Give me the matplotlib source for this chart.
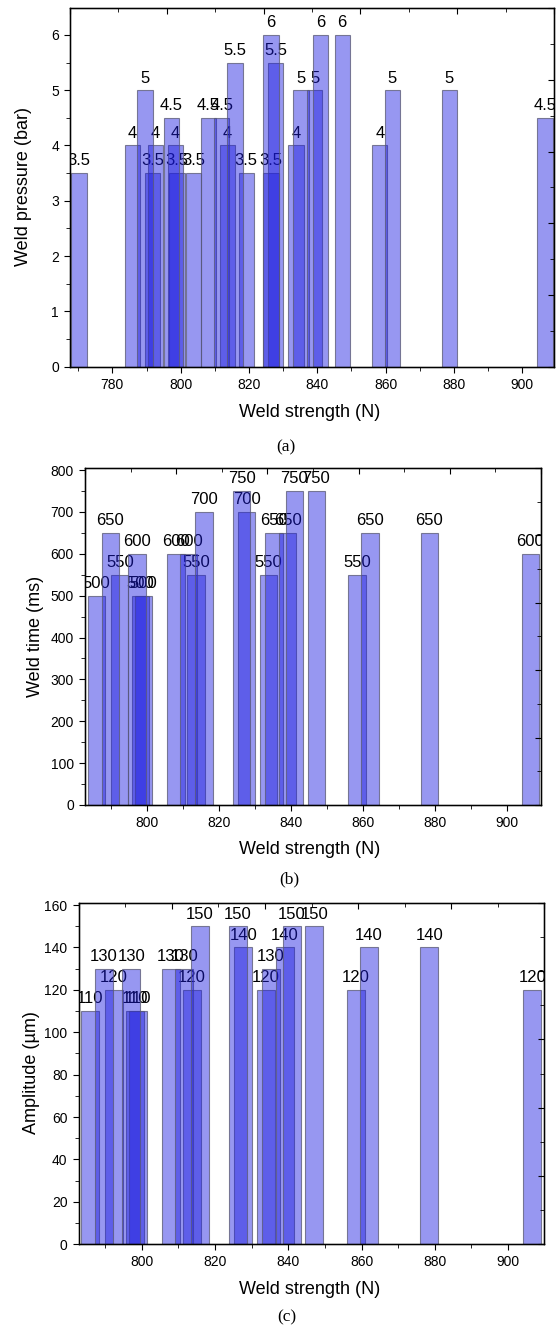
import matplotlib
matplotlib.use('Agg')
from matplotlib import pyplot as plt
from matplotlib.ticker import MultipleLocator

plt.rcParams['font.family'] = ['Liberation Sans', 'DejaVu Sans']

# (a) weld pressure vs weld strength
strength_a = [770.2, 785.9, 789.6, 791.8, 792.7, 797.3, 798.4, 798.9, 803.8, 808.1,
              812.0, 813.7, 815.9, 819.2, 826.5, 826.4, 827.8, 833.8, 835.2, 839.2,
              841.0, 847.3, 858.3, 862.0, 878.7, 906.7]
pressure = [3.5, 4, 5, 3.5, 4, 4.5, 4, 3.5, 3.5, 4.5,
            4.5, 4, 5.5, 3.5, 6, 3.5, 5.5, 4, 5, 5,
            6, 6, 4, 5, 5, 4.5]

# (b) weld time and (c) amplitude share the same strength positions
strength_bc = [785.8, 789.7, 792.4, 797.2, 798.2, 798.9, 808.0, 811.6, 813.6, 815.8,
               826.3, 827.7, 833.8, 835.3, 839.1, 841.0, 847.1, 858.4, 862.0, 878.5,
               906.6]
weld_time = [500, 650, 550, 600, 500, 500, 600, 600, 550, 700,
             750, 700, 550, 650, 650, 750, 750, 550, 650, 650,
             600]
amplitude = [110, 130, 120, 130, 110, 110, 130, 130, 120, 150,
             150, 140, 120, 130, 140, 150, 150, 120, 140, 140,
             120]

W, H = 556, 1328
face = (0.10, 0.10, 0.88, 0.45)
edge = (0.35, 0.35, 0.45, 0.75)

fig = plt.figure(figsize=(W / 100, H / 100), dpi=100)


def px_axes(l, r, t, b):
    return fig.add_axes([l / W, 1 - b / H, (r - l) / W, (b - t) / H])


def draw_panel(ax, xs, ys, width, xlim, ylim, ymajor, yminor):
    order = sorted(range(len(xs)), key=lambda i: ys[i])
    for k, i in enumerate(order):
        z = 1 + 0.02 * k
        ax.bar(xs[i], ys[i], width=width, color=face, edgecolor=edge,
               linewidth=0.8, zorder=z)
        ax.annotate('%g' % ys[i], (xs[i], ys[i]), xytext=(0, 5.5),
                    textcoords='offset points', ha='center', va='baseline',
                    fontsize=12, zorder=z + 0.01, annotation_clip=False,
                    clip_on=True)
    ax.set_xlim(*xlim)
    ax.set_ylim(*ylim)
    ax.xaxis.set_major_locator(MultipleLocator(20))
    ax.xaxis.set_minor_locator(MultipleLocator(10))
    ax.yaxis.set_major_locator(MultipleLocator(ymajor))
    ax.yaxis.set_minor_locator(MultipleLocator(yminor))
    ax.tick_params(which='both', direction='out', labelsize=10, top=False, right=False)
    ax.tick_params(which='major', length=4.5)
    ax.tick_params(which='minor', length=3)
    for s in ax.spines.values():
        s.set_linewidth(1.0)
    # Origin-style opposite axes with their own 0..1 ticks
    tx = ax.twiny()
    ty = ax.twinx()
    for t, axis in ((tx, tx.xaxis), (ty, ty.yaxis)):
        t.set_xlim(0, 1) if t is tx else t.set_ylim(0, 1)
        axis.set_major_locator(MultipleLocator(0.2))
        axis.set_minor_locator(MultipleLocator(0.1))
        t.tick_params(which='both', direction='in', labeltop=False, labelright=False,
                      labelbottom=False, labelleft=False)
        t.tick_params(which='major', length=4.5)
        t.tick_params(which='minor', length=3)


ax_a = px_axes(70, 554, 8.3, 366.7)
draw_panel(ax_a, strength_a, pressure, 4.5, (767.6, 909.3), (0, 6.48), 1, 0.5)

ax_b = px_axes(85, 541, 468, 805)
draw_panel(ax_b, strength_bc, weld_time, 4.8, (782.7, 909.6), (0, 805), 100, 50)

ax_c = px_axes(78.7, 544.3, 902.7, 1244.3)
draw_panel(ax_c, strength_bc, amplitude, 4.9, (782.8, 909.9), (0, 161.1), 20, 10)


def ftext(x, y, s, **kw):
    fig.text(x / W, 1 - y / H, s, ha='center', va='center', **kw)


ftext(24, 187, 'Weld pressure (bar)', rotation=90, fontsize=13)
ftext(35.5, 636, 'Weld time (ms)', rotation=90, fontsize=13)
ftext(32, 1073, 'Amplitude (µm)', rotation=90, fontsize=13)

for y in (412, 850, 1289):
    ftext(310, y, 'Weld strength (N)', fontsize=13)

for x, y, s in ((286, 447, '(a)'), (289, 879, '(b)'), (287, 1317, '(c)')):
    ftext(x, y, s, fontsize=12.5, family=['Liberation Serif', 'DejaVu Serif'])

fig.savefig('out.png', dpi=100)
